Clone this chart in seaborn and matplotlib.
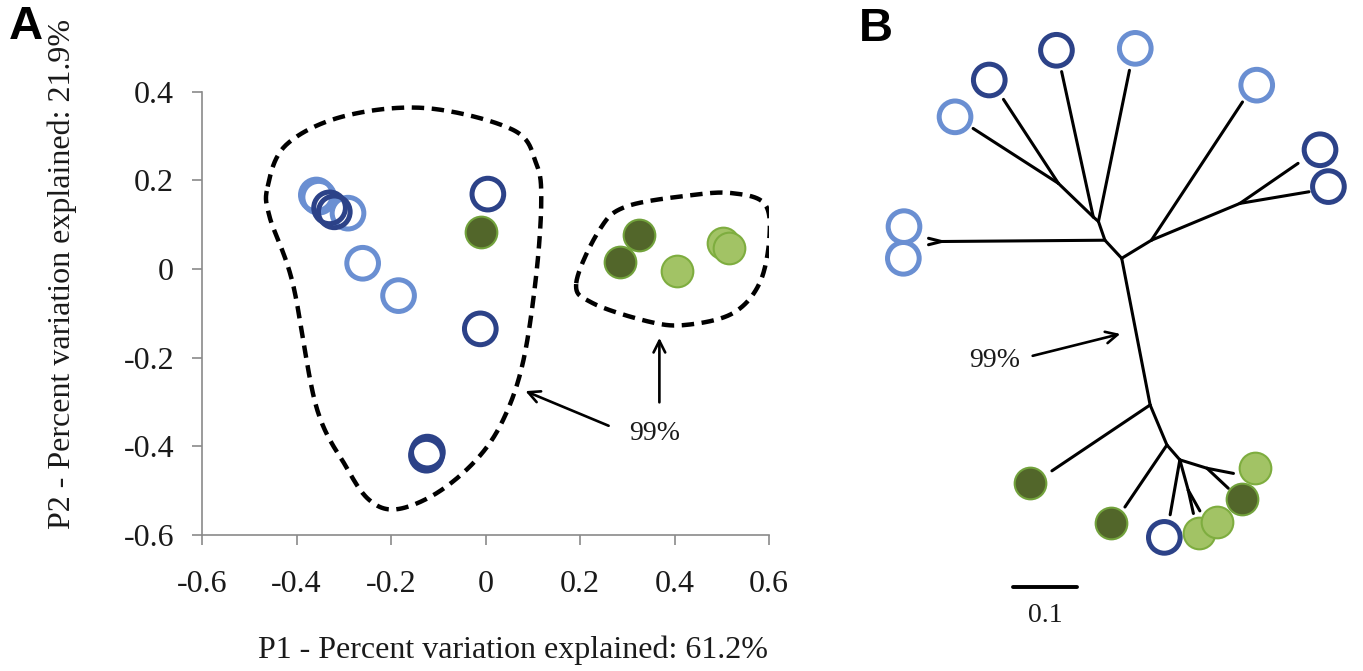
import numpy as np
import pandas as pd
import matplotlib
matplotlib.use("Agg")
import matplotlib.pyplot as plt
from matplotlib.collections import LineCollection
import seaborn as sns

# ---- panel A: PCA scores ----
pc1 = [-0.358, -0.353, -0.291, -0.260, -0.184,
       -0.330, -0.320, 0.005, -0.011, -0.125, -0.123,
       -0.009, 0.324, 0.284,
       0.405, 0.502, 0.516]
pc2 = [0.167, 0.162, 0.126, 0.013, -0.060,
       0.138, 0.129, 0.169, -0.135, -0.420, -0.413,
       0.084, 0.077, 0.016,
       -0.004, 0.058, 0.047]
group = (["light_blue"] * 5 + ["dark_blue"] * 6 +
         ["dark_green"] * 3 + ["light_green"] * 3)

# hand drawn 99% outlines (control points)
hull1_x = [-0.461, -0.422, -0.302, -0.126, 0.058, 0.107, 0.118, 0.107, 0.079,
           0.037, -0.020, -0.104, -0.189, -0.246, -0.295, -0.358, -0.408, -0.457]
hull1_y = [0.186, 0.280, 0.344, 0.363, 0.314, 0.239, 0.156, -0.017, -0.212,
           -0.341, -0.431, -0.506, -0.542, -0.521, -0.446, -0.311, -0.032, 0.118]
hull2_x = [0.192, 0.241, 0.298, 0.439, 0.523, 0.590, 0.601, 0.580, 0.523,
           0.425, 0.347, 0.227]
hull2_y = [-0.032, 0.088, 0.141, 0.167, 0.171, 0.148, 0.073, -0.032, -0.100,
           -0.126, -0.119, -0.077]

x_ticks = [-0.6, -0.4, -0.2, 0, 0.2, 0.4, 0.6]
y_ticks = [-0.6, -0.4, -0.2, 0, 0.2, 0.4]
x_ticklabels = ["-0.6", "-0.4", "-0.2", "0", "0.2", "0.4", "0.6"]
y_ticklabels = ["-0.6", "-0.4", "-0.2", "0", "0.2", "0.4"]

# ---- panel B: unrooted tree (branch length units) ----
node_name = ["R", "n4", "n3", "n2", "n1", "f", "n5", "n6", "m1", "m2", "m3", "m4", "m5",
             "t1", "t2", "t3", "t4", "t5", "t6", "t7", "t8", "t9",
             "t10", "t11", "t12", "t13", "t14", "t15", "t16"]
node_x = [0.0, -0.026, -0.036, -0.044, -0.098, -0.279, 0.046, 0.183, 0.044, 0.070, 0.090, 0.103, 0.132,
          -0.230, -0.183, -0.093, 0.012, 0.187, 0.273, 0.290, -0.299, -0.299,
          -0.108, 0.005, 0.075, 0.111, 0.121, 0.173, 0.165]
node_y = [0.0, 0.028, 0.057, 0.064, 0.116, 0.026, 0.028, 0.085, -0.227, -0.289, -0.312, -0.359, -0.325,
          0.201, 0.246, 0.289, 0.291, 0.242, 0.147, 0.103, 0.031, 0.021,
          -0.329, -0.385, -0.397, -0.395, -0.391, -0.333, -0.356]
node_parent = [None, "R", "n4", "n3", "n2", "n4", "R", "n5", "R", "m1", "m2", "m3", "m3",
               "n1", "n1", "n2", "n3", "n5", "n6", "n6", "f", "f",
               "m1", "m2", "m3", "m4", "m4", "m5", "m5"]

tip_x = [-0.258, -0.205, -0.101, 0.021, 0.209, 0.307, 0.320, -0.337, -0.338,
         -0.142, -0.017, 0.066, 0.119, 0.148, 0.206, 0.186]
tip_y = [0.219, 0.276, 0.322, 0.325, 0.268, 0.168, 0.111, 0.049, 0.0,
         -0.348, -0.409, -0.432, -0.426, -0.408, -0.325, -0.373]
tip_group = ["light_blue", "dark_blue", "dark_blue", "light_blue", "light_blue",
             "dark_blue", "dark_blue", "light_blue", "light_blue",
             "dark_green", "dark_green", "dark_blue", "light_green", "light_green",
             "light_green", "dark_green"]
scale_len = 0.1

style = {
    "light_blue": dict(facecolor="none", edgecolor="#6a8fd2", linewidth=3.6),
    "dark_blue": dict(facecolor="none", edgecolor="#2c4288", linewidth=3.6),
    "dark_green": dict(facecolor="#52662a", edgecolor="#72a23c", linewidth=1.5),
    "light_green": dict(facecolor="#a2c365", edgecolor="#7ead3f", linewidth=1.5),
}


def smooth_closed(xs, ys, n=24):
    pts = np.column_stack([xs, ys])
    N = len(pts)
    t = np.linspace(0, 1, n, endpoint=False)[:, None]
    out = []
    for i in range(N):
        p0, p1, p2, p3 = pts[(i - 1) % N], pts[i], pts[(i + 1) % N], pts[(i + 2) % N]
        out.append(0.5 * (2 * p1 + (-p0 + p2) * t + (2 * p0 - 5 * p1 + 4 * p2 - p3) * t ** 2
                          + (-p0 + 3 * p1 - 3 * p2 + p3) * t ** 3))
    out.append(out[0][:1])
    out = np.vstack(out)
    return out[:, 0], out[:, 1]


sns.set_theme(style="white")
plt.rcParams["font.family"] = ["Liberation Serif", "DejaVu Serif"]

W, H = 1363, 671
fig = plt.figure(figsize=(W / 100, H / 100), dpi=100)

# ---------- A ----------
axA = fig.add_axes([202 / W, 1 - 535 / H, 567 / W, 443.3 / H])
df = pd.DataFrame({"pc1": pc1, "pc2": pc2, "group": group})
for g, sub in df.groupby("group", sort=False):
    sns.scatterplot(data=sub, x="pc1", y="pc2", ax=axA, s=520, marker="o",
                    legend=False, zorder=3, **style[g])

for hx, hy in [(hull1_x, hull1_y), (hull2_x, hull2_y)]:
    sx, sy = smooth_closed(hx, hy)
    axA.plot(sx, sy, color="black", lw=3.2, ls=(0, (2.8, 1.7)), zorder=2)

arrow_kw = dict(arrowstyle="->,head_length=0.7,head_width=0.35", color="black", lw=1.9)
axA.annotate("", xy=(0.079, -0.273), xytext=(0.266, -0.356), arrowprops=arrow_kw)
axA.annotate("", xy=(0.368, -0.149), xytext=(0.368, -0.307), arrowprops=arrow_kw)
axA.text(0.358, -0.37, "99%", ha="center", va="center", fontsize=20, color="#1a1a1a")

axA.set_xlim(-0.6, 0.6)
axA.set_ylim(-0.6, 0.4)
axA.set_xticks(x_ticks, x_ticklabels)
axA.set_yticks(y_ticks, y_ticklabels)
axA.set_xlabel("")
axA.set_ylabel("")
for side in ["top", "right"]:
    axA.spines[side].set_visible(False)
for side in ["left", "bottom"]:
    axA.spines[side].set_color("#8a8a8a")
    axA.spines[side].set_linewidth(1.2)
axA.tick_params(axis="both", which="both", direction="out", length=7, width=1.2,
                color="#8a8a8a", labelsize=23, labelcolor="#1a1a1a", left=True, bottom=True)
axA.tick_params(axis="y", pad=13)
axA.tick_params(axis="x", pad=18)

fig.text(513 / W, 1 - 650 / H, "P1 - Percent variation explained: 61.2%",
         ha="center", va="center", fontsize=23, color="#1a1a1a")
fig.text(62 / W, 1 - 274 / H, "P2 - Percent variation explained: 21.9%",
         ha="center", va="center", rotation=90, fontsize=23, color="#1a1a1a")

# ---------- B ----------
axB = fig.add_axes([860 / W, 0, (W - 860) / W, 1])
pos = dict(zip(node_name, zip(node_x, node_y)))
segs = [[pos[p], pos[c]] for c, p in zip(node_name, node_parent) if p is not None]
axB.add_collection(LineCollection(segs, colors="black", linewidths=2.2, capstyle="round", zorder=1))

tips = pd.DataFrame({"x": tip_x, "y": tip_y, "group": tip_group})
for g, sub in tips.groupby("group", sort=False):
    sns.scatterplot(data=sub, x="x", y="y", ax=axB, s=520, marker="o",
                    legend=False, zorder=3, **style[g])

axB.annotate("", xy=(0.002, -0.116), xytext=(-0.142, -0.152), arrowprops=arrow_kw)
axB.text(-0.196, -0.158, "99%", ha="center", va="center", fontsize=20, color="#1a1a1a")

sb_x0 = -0.169
axB.plot([sb_x0, sb_x0 + scale_len], [-0.509, -0.509], color="black", lw=2.8)
axB.text(sb_x0 + scale_len / 2, -0.553, f"{scale_len:g}", ha="center", va="center",
         fontsize=20, color="#1a1a1a")

axB.set_xlim((860 - 1121.7) / 646, (W - 1121.7) / 646)
axB.set_ylim((258.3 - H) / 646, 258.3 / 646)
axB.set_axis_off()

# panel letters
fig.text(26 / W, 1 - 27 / H, "A", ha="center", va="center", fontsize=34,
         fontweight="bold", color="black", family=["Liberation Sans", "DejaVu Sans"])
fig.text(876 / W, 1 - 29 / H, "B", ha="center", va="center", fontsize=34,
         fontweight="bold", color="black", family=["Liberation Sans", "DejaVu Sans"])

fig.savefig("out.png", dpi=100, facecolor="white")
